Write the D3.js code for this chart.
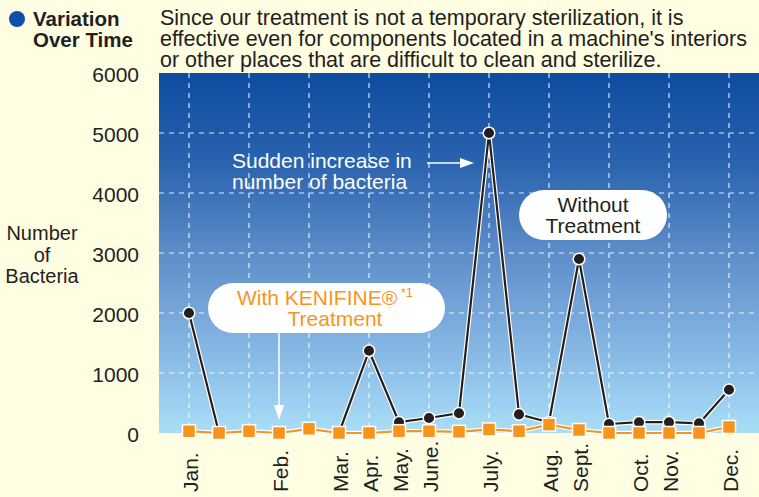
<!DOCTYPE html>
<html>
<head>
<meta charset="utf-8">
<script src="https://cdn.jsdelivr.net/npm/d3@7"></script>
<style>
  html, body { margin: 0; padding: 0; background: #fffde2; }
  svg { display: block; font-family: "Liberation Sans", Arial, Helvetica, sans-serif; }
</style>
</head>
<body>
<svg id="chart" width="759" height="497"></svg>
<script>
// month labels and the slot (0..18) where each one sits on the x axis
const months = ["Jan.", "Feb.", "Mar.", "Apr.", "May.", "June.", "July.", "Aug.", "Sept.", "Oct.", "Nov.", "Dec."];
const monthSlots = [0, 3, 5, 6, 7, 8, 10, 12, 13, 15, 16, 18];

// 19 measurements across the year
const withoutTreatment = [2000, 0, 0, 0, 60, 0, 1370, 180, 250, 330, 5000, 310, 180, 2900, 150, 180, 180, 160, 720];
const withTreatment = [30, 0, 30, 0, 70, 0, 0, 30, 30, 20, 60, 30, 140, 50, 0, 0, 0, 0, 100];

const yTicks = [0, 1000, 2000, 3000, 4000, 5000, 6000];
const textColor = "#231f20";
const orange = "#f7941d";

const svg = d3.select("#chart");
const plot = { left: 159, right: 759, top: 73, bottom: 433 };

const x = d3.scaleLinear().domain([-1, 19]).range([plot.left, plot.right]);
const y = d3.scaleLinear().domain([0, 6000]).range([plot.bottom, plot.top]);

// background gradient
const defs = svg.append("defs");
const grad = defs.append("linearGradient").attr("id", "bg").attr("x1", 0).attr("y1", 0).attr("x2", 0).attr("y2", 1);
[[0, "#0d4c9f"], [0.25, "#2a63ae"], [0.5, "#5e8dc9"], [0.8, "#8bbce6"], [1, "#a9def7"]]
  .forEach(([o, c]) => grad.append("stop").attr("offset", o).attr("stop-color", c));

svg.append("rect")
  .attr("x", plot.left).attr("y", plot.top)
  .attr("width", plot.right - plot.left).attr("height", plot.bottom - plot.top)
  .attr("fill", "url(#bg)");

// dashed grid
const grid = svg.append("g").attr("stroke", "#fff").attr("stroke-width", 1.2)
  .attr("stroke-dasharray", "5,5").attr("opacity", 0.85);
grid.selectAll(".h").data(yTicks.filter(d => d > 0 && d < 6000)).join("line")
  .attr("x1", plot.left).attr("x2", plot.right)
  .attr("y1", d => y(d)).attr("y2", d => y(d));
grid.selectAll(".v").data(d3.range(0, 19, 2)).join("line")
  .attr("x1", d => x(d)).attr("x2", d => x(d))
  .attr("y1", plot.top).attr("y2", plot.bottom);

// y axis
const yAxis = svg.append("g")
  .attr("transform", `translate(${plot.left},0)`)
  .call(d3.axisLeft(y).tickValues(yTicks).tickSize(0).tickPadding(20).tickFormat(d3.format("d")));
yAxis.select(".domain").remove();
yAxis.selectAll("text")
  .attr("font-size", 21).attr("fill", textColor)
  .attr("font-family", "'Liberation Sans', Arial, sans-serif")
  .attr("dy", "0.42em");

// y title
const yTitle = svg.append("text").attr("text-anchor", "middle").attr("font-size", 20).attr("fill", textColor);
["Number", "of", "Bacteria"].forEach((t, i) =>
  yTitle.append("tspan").attr("x", 42).attr("y", 240 + i * 21.5).text(t));

// x labels, rotated
const xAxis = svg.append("g")
  .attr("transform", `translate(0,${plot.bottom})`)
  .call(d3.axisBottom(x).tickValues(monthSlots).tickSize(0)
    .tickFormat(d => months[monthSlots.indexOf(d)]));
xAxis.select(".domain").remove();
xAxis.selectAll("text")
  .attr("font-size", 21).attr("fill", textColor)
  .attr("font-family", "'Liberation Sans', Arial, sans-serif")
  .attr("text-anchor", "start")
  .attr("y", 0).attr("dy", 0)
  .attr("transform", "translate(8,59) rotate(-90)");

// series
const line = d3.line().x((d, i) => x(i)).y(d => y(d));

function drawSeries(data, color) {
  svg.append("path").datum(data).attr("d", line)
    .attr("fill", "none").attr("stroke", "#fff").attr("stroke-width", 4.5).attr("stroke-linejoin", "round");
  svg.append("path").datum(data).attr("d", line)
    .attr("fill", "none").attr("stroke", color).attr("stroke-width", 2.2).attr("stroke-linejoin", "round");
}

drawSeries(withoutTreatment, textColor);
svg.append("g").selectAll("circle").data(withoutTreatment).join("circle")
  .attr("cx", (d, i) => x(i)).attr("cy", d => y(d)).attr("r", 5.8)
  .attr("fill", textColor).attr("stroke", "#fff").attr("stroke-width", 1.5);

drawSeries(withTreatment, orange);
svg.append("g").selectAll("rect").data(withTreatment).join("rect")
  .attr("x", (d, i) => x(i) - 6.5).attr("y", d => y(d) - 6.5)
  .attr("width", 13).attr("height", 13)
  .attr("fill", orange).attr("stroke", "#fff").attr("stroke-width", 1.5);

// annotation: with treatment
svg.append("rect").attr("x", 208).attr("y", 283).attr("width", 237).attr("height", 50)
  .attr("rx", 25).attr("fill", "#fff");
const kt = svg.append("text").attr("fill", orange).attr("font-size", 21).attr("text-anchor", "middle");
const l1 = kt.append("tspan").attr("x", 325).attr("y", 305);
l1.append("tspan").text("With KENIFINE®");
l1.append("tspan").attr("font-size", 13).attr("dy", -8).text(" *1");
kt.append("tspan").attr("x", 335).attr("y", 326).text("Treatment");

svg.append("line").attr("x1", x(3)).attr("x2", x(3)).attr("y1", 333).attr("y2", y(0) - 26)
  .attr("stroke", "#fff").attr("stroke-width", 1.5);
svg.append("path")
  .attr("d", `M${x(3) - 5},${y(0) - 28} L${x(3) + 5},${y(0) - 28} L${x(3)},${y(0) - 13} Z`)
  .attr("fill", "#fff");

// annotation: sudden increase
const st = svg.append("text").attr("fill", "#fff").attr("font-size", 21);
st.append("tspan").attr("x", 232).attr("y", 168).text("Sudden increase in");
st.append("tspan").attr("x", 232).attr("y", 189).text("number of bacteria");
svg.append("line").attr("x1", 427).attr("x2", 462).attr("y1", 163).attr("y2", 163)
  .attr("stroke", "#fff").attr("stroke-width", 1.5);
svg.append("path").attr("d", "M460,158 L460,168 L474,163 Z").attr("fill", "#fff");

// annotation: without treatment
svg.append("rect").attr("x", 519).attr("y", 190).attr("width", 148).attr("height", 50)
  .attr("rx", 25).attr("fill", "#fff");
const wt = svg.append("text").attr("fill", textColor).attr("font-size", 21).attr("text-anchor", "middle");
wt.append("tspan").attr("x", 593).attr("y", 212).text("Without");
wt.append("tspan").attr("x", 593).attr("y", 233).text("Treatment");

// header
svg.append("circle").attr("cx", 17).attr("cy", 19).attr("r", 8).attr("fill", "#0f4fa8");
const hd = svg.append("text").attr("font-size", 20.5).attr("font-weight", "bold").attr("fill", textColor);
hd.append("tspan").attr("x", 33).attr("y", 26).text("Variation");
hd.append("tspan").attr("x", 33).attr("y", 47).text("Over Time");

const note = svg.append("text").attr("font-size", 21.5).attr("fill", textColor);
["Since our treatment is not a temporary sterilization, it is",
 "effective even for components located in a machine's interiors",
 "or other places that are difficult to clean and sterilize."]
  .forEach((t, i) => note.append("tspan").attr("x", 160).attr("y", 25 + i * 20.8).text(t));
</script>
</body>
</html>
